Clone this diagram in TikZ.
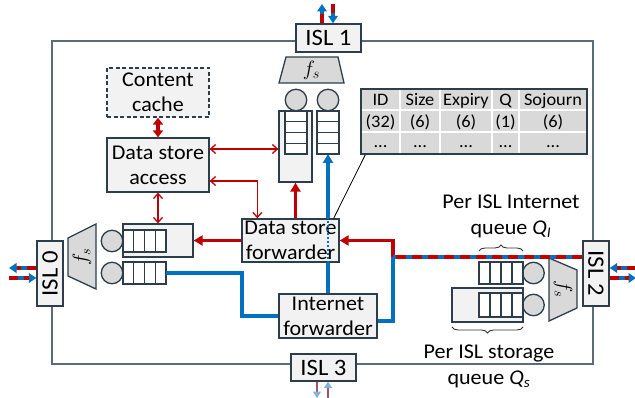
\documentclass[tikz,border=0pt]{standalone}
\usepackage{fontspec}
\setmainfont{Carlito}[FakeStretch=1.05]
\usetikzlibrary{arrows.meta,decorations.pathreplacing,calc}

\definecolor{netred}{HTML}{C00000}
\definecolor{netblue}{HTML}{0070C0}
\definecolor{edge}{HTML}{2E3D4C}
\definecolor{boxfill}{HTML}{F2F2F2}
\definecolor{grayfill}{HTML}{D9D9D9}
\definecolor{framec}{HTML}{5B6B79}
\definecolor{fadered}{HTML}{A8506E}
\definecolor{fadeblue}{HTML}{7DB4E0}

\newcommand\lblfont{\fontsize{21}{25}\selectfont}
\newcommand\islfont{\fontsize{23.5}{26}\selectfont}
\newcommand\tabfont{\fontsize{17.5}{20}\selectfont}
\newcommand\fsfont{\fontsize{19.5}{22}\selectfont}

\begin{document}
\begin{tikzpicture}[x=1pt,y=-1pt,
  unit/.style={draw=edge, line width=1.3pt, fill=boxfill, align=center, inner sep=0pt, font=\lblfont},
  islbox/.style={draw=edge, line width=1.3pt, fill=boxfill, inner sep=0pt, font=\islfont},
  holder/.style={draw=edge, line width=1.3pt, fill=boxfill, inner sep=0pt},
  qcirc/.style={circle, draw=edge, fill=grayfill, line width=1.3pt, minimum size=21.5pt, inner sep=0pt},
  cell/.style={draw=edge, fill=white, line width=1.3pt},
  trap/.style={draw=edge, fill=grayfill, line width=1.3pt},
  heavyred/.style={draw=netred, line width=3.2pt},
  heavyblue/.style={draw=netblue, line width=3.2pt},
  bigtip/.style={-{Triangle[length=9pt,width=10pt]}},
  thinred/.style={draw=netred, line width=1.3pt, {Straight Barb[length=5pt,width=9pt]}-{Straight Barb[length=5pt,width=9pt]}},
  linkbase/.style={draw=netblue, line width=3.2pt, -{Triangle[length=7.5pt,width=9.5pt]}},
  linkdash/.style={draw=netred, line width=3.2pt, dash pattern=on 9pt off 6pt, shorten >=7.5pt},
  fadelink/.style={draw=fadered, line width=2.8pt, -{Triangle[length=6.5pt,width=8pt,color=fadeblue]}},
  tabtext/.style={font=\tabfont, inner sep=0pt, anchor=base},
  lbl/.style={font=\lblfont, align=center, inner sep=0pt},
  bracestyle/.style={draw=black!80, line width=0.9pt, decorate, decoration={brace, amplitude=6pt}}
]
\useasboundingbox (0,0) rectangle (635,398);

% node frame
\draw[framec, line width=1.2pt] (52,41) rectangle (593,364);

% ISL ports
\node[islbox, minimum width=65pt, minimum height=28pt] (isl1) at (328.5,38) {ISL 1};
\node[islbox, minimum width=65pt, minimum height=27pt] (isl3) at (323.5,367.5) {ISL 3};
\node[islbox, minimum width=65pt, minimum height=26pt, rotate=90] (isl0) at (50,273.5) {ISL 0};
\node[islbox, minimum width=65pt, minimum height=26pt, rotate=-90] (isl2) at (596,273.5) {ISL 2};

% processing blocks
\node[unit, dash pattern=on 4pt off 2.5pt, minimum width=102pt, minimum height=49pt] (cache) at (158,92.5) {Content\\cache};
\node[unit, minimum width=102pt, minimum height=54pt] (dsa) at (158,165) {Data store\\access};
\node[unit, minimum width=97pt, minimum height=43pt] (dsf) at (290.5,240.5) {Data store\\forwarder};
\node[unit, minimum width=98pt, minimum height=44pt] (inet) at (328,316) {Internet\\forwarder};

% scheduler towards ISL 1
\draw[trap] (286,57) -- (338,57) -- (344,83) -- (279,83) -- cycle;
\node[font=\fsfont] (fsT) at (311.5,70) {$f_s$};
\node[qcirc] (cA) at (296,100) {};
\node[qcirc] (cB) at (328,100) {};
\node[holder, minimum width=33pt, minimum height=71pt] (tall) at (295.5,146.5) {};
\foreach \xx in {285,317}
  \foreach \i in {0,...,3}
    \draw[cell] (\xx,{111+\i*10.75}) rectangle ++(22,10.75);
\coordinate (qBbot) at (328,154);

% scheduler towards ISL 0
\draw[trap] (68,238) -- (96,224) -- (96,289) -- (68,276) -- cycle;
\node[font=\fsfont, rotate=90] (fsL) at (82,256.5) {$f_s$};
\node[holder, minimum width=70pt, minimum height=33pt] (lbox) at (158,240.5) {};
\node[qcirc] (cL1) at (112,241) {};
\node[qcirc] (cL2) at (112,273) {};
\foreach \i in {0,...,3} {
  \draw[cell] ({123+\i*10.75},230) rectangle ++(10.75,22);
  \draw[cell] ({123+\i*10.75},262) rectangle ++(10.75,22);
}
\coordinate (qL2) at (166,273);

% scheduler towards ISL 2
\draw[trap] (549,258) -- (577,270) -- (577,308) -- (549,321) -- cycle;
\node[font=\fsfont, rotate=-90] (fsR) at (563,289.5) {$f_s$};
\node[holder, minimum width=71pt, minimum height=34pt] (rbox) at (487.5,305) {};
\node[qcirc] (cR1) at (533.5,273) {};
\node[qcirc] (cR2) at (533.5,305) {};
\foreach \i in {0,...,3} {
  \draw[cell] ({479+\i*11},262) rectangle ++(11,22);
  \draw[cell] ({479+\i*11},293) rectangle ++(11,24);
}

% content table
\node[draw=edge, fill=grayfill, line width=1.3pt, minimum width=226pt, minimum height=65pt, inner sep=0pt] (tbl) at (474,121.5) {};
\foreach \yy in {110.5,132.5}
  \draw[white, line width=2pt] (362,\yy) -- (586,\yy);
\foreach \xx in {400,440,492,519}
  \draw[white, line width=2pt] (\xx,90) -- (\xx,153);
\draw[edge, line width=1.3pt] (tbl.north west) rectangle (tbl.south east);
\foreach \xx/\a/\b [count=\k] in {380.5/ID/{(32)}, 420/Size/{(6)}, 466/Expiry/{(6)}, 505.5/Q/{(1)}, 553/Sojourn/{(6)}} {
  \node[tabtext] (hd\k) at (\xx,105.5) {\a};
  \node[tabtext] (bits\k) at (\xx,127.5) {\b};
  \node[tabtext] (more\k) at (\xx,148) {...};
}
\draw[black, line width=0.8pt] ($(tbl.south west)+(5,0)$) -- ($(dsf.north east)+(-6,0)$);

% storage path (red)
\draw[heavyred, {Triangle[length=7pt,width=10pt]}-{Triangle[length=7pt,width=10pt]}] (cache.south) -- (dsa.north);
\coordinate (dsaR1) at ($(dsa.east)+(0,-16)$);
\coordinate (dsaR2) at ($(dsa.east)+(0,16)$);
\coordinate (dsfT) at ($(dsf.north west)+(16,0)$);
\draw[thinred] (dsaR1) -- (dsaR1 -| tall.west);
\draw[thinred] (dsaR2) -| (dsfT);
\draw[thinred] (dsa.south) -- (lbox.north);
\draw[heavyred, bigtip] (dsf.north -| tall.south) -- (tall.south);
\draw[heavyred, bigtip] (dsf.west) -- (lbox.east);

% Internet path (blue)
\coordinate (j2) at (393,257);
\draw[heavyblue] (j2) |- ($(inet.east)+(0,5)$);
\draw[heavyblue] (qL2) -- (242,273) |- (inet.west);
\draw[heavyblue] (inet.north) -- (inet.north |- dsf.south);
\draw[netblue, line width=2.8pt, dash pattern=on 2pt off 2pt] (inet.north |- dsf.south) -- (inet.north |- dsf.north);
\draw[heavyblue, bigtip] (inet.north |- dsf.north) -- (qBbot);

% shared ingress from ISL 2
\draw[heavyred, bigtip] (j2) |- (dsf.east);
\draw[heavyblue] (isl2.south |- j2) -- (j2);
\draw[netred, line width=3.2pt, dash pattern=on 10pt off 6pt] (isl2.south |- j2) -- (j2);

% external links
\coordinate (w1) at (9,268);
\coordinate (w2) at (9,278);
\draw[linkbase] (isl0.north |- w1) -- (w1);
\draw[linkdash] (isl0.north |- w1) -- (w1);
\draw[linkbase] (w2) -- (isl0.north |- w2);
\draw[linkdash] (w2) -- (isl0.north |- w2);

\coordinate (e1) at (636,268);
\coordinate (e2) at (636,278);
\draw[linkbase] (e1) -- (isl2.north |- e1);
\draw[linkdash] (e1) -- (isl2.north |- e1);
\draw[linkbase] (isl2.north |- e2) -- (e2);
\draw[linkdash] (isl2.north |- e2) -- (e2);

\coordinate (n1) at (322,4);
\coordinate (n2) at (333,4);
\draw[linkbase] (isl1.north -| n1) -- (n1);
\draw[linkdash] (isl1.north -| n1) -- (n1);
\draw[linkbase] (n2) -- (isl1.north -| n2);
\draw[linkdash] (n2) -- (isl1.north -| n2);

\coordinate (s1) at (317,398);
\coordinate (s2) at (328,398);
\draw[fadelink] (isl3.south -| s1) -- (s1);
\draw[fadelink] (s2) -- (isl3.south -| s2);

% queue annotations
\draw[bracestyle] (479,251) -- (523,251);
\draw[bracestyle] (523,327) -- (452,327);
\node[lbl] (qiText) at (511,216.5) {Per ISL Internet\\[1pt]queue \textit{Q}\textsubscript{\textit{I}}};
\node[lbl] (qsText) at (489,366) {Per ISL storage\\[1pt]queue \textit{Q}\textsubscript{\textit{s}}};
\end{tikzpicture}
\end{document}
